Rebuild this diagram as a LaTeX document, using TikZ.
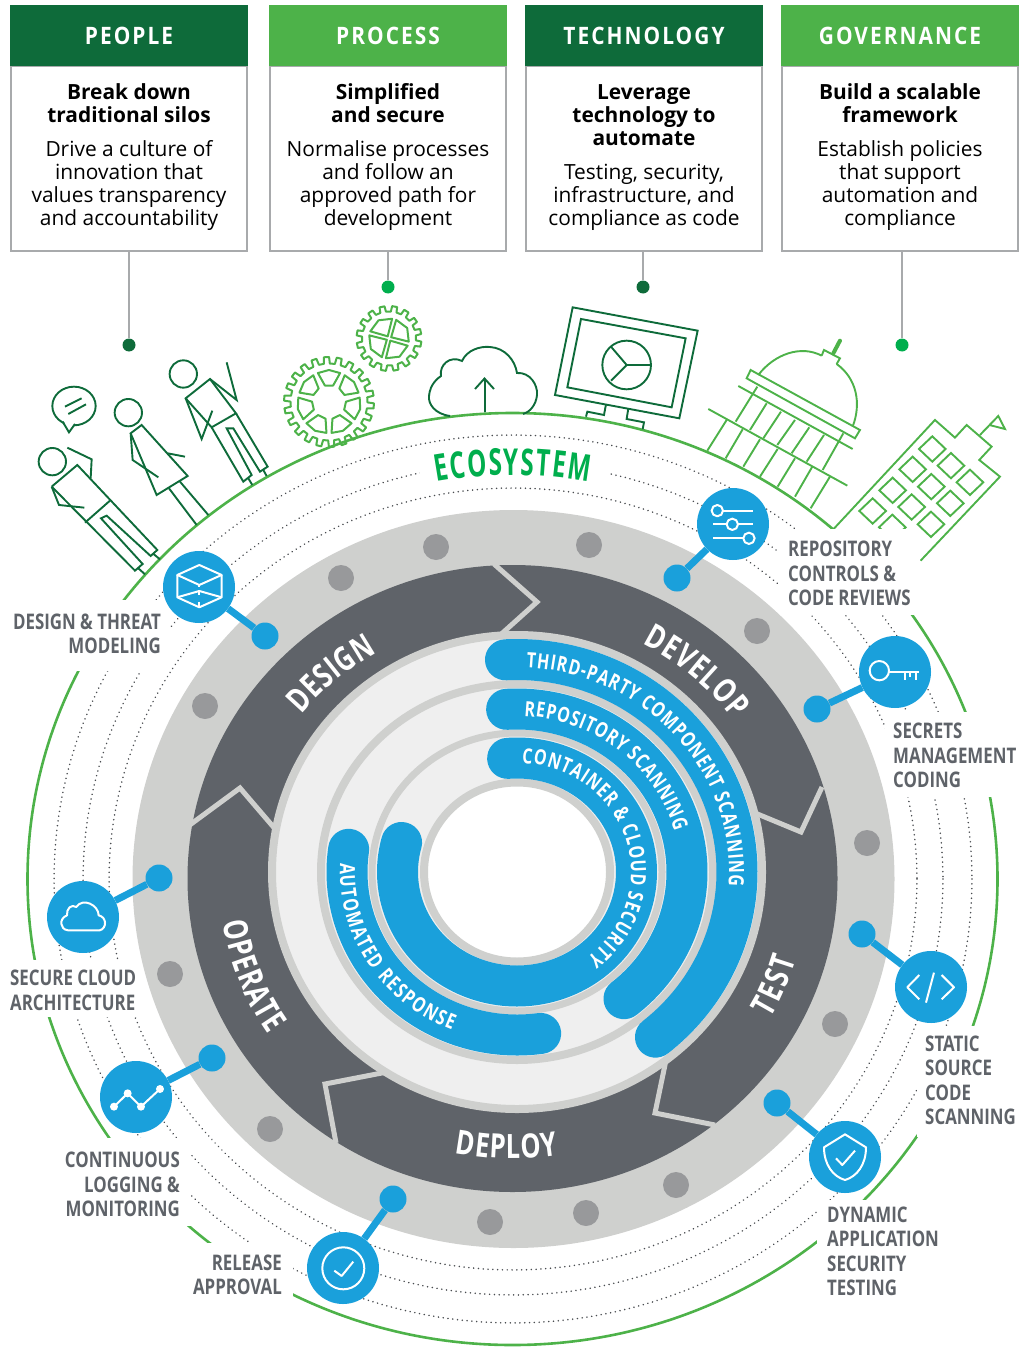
\documentclass[tikz,border=0pt]{standalone}
\usepackage{fontspec}
\setmainfont{Open Sans}
\newfontfamily\condfam[FakeStretch=0.785]{Open Sans}
\newfontfamily\ringfam[FakeStretch=0.76]{Open Sans}
\newfontfamily\ecofam[FakeStretch=0.655]{Open Sans}
\newfontfamily\headfam[FakeStretch=0.87,LetterSpace=8.5]{Open Sans}
\usetikzlibrary{decorations.text}
\definecolor{dgreen}{HTML}{0E6B3A}
\definecolor{lgreen}{HTML}{4DB249}
\definecolor{bgreen}{HTML}{00AE4D}
\definecolor{cblue}{HTML}{1AA0DB}
\definecolor{rgray}{HTML}{CFD0CE}
\definecolor{cdark}{HTML}{5F6369}
\definecolor{clight}{HTML}{EFEFEF}
\definecolor{cdisc}{HTML}{98999B}
\definecolor{bordergray}{HTML}{A8AAAC}
\definecolor{dotgray}{HTML}{4A4D51}
\newcommand{\earc}[6]{plot[domain=#5:#6,samples=150] ({#1+#3*cos(\x)},{#2+#4*sin(\x)})}
\newcommand{\drawgear}[6]{%
  \pgfmathsetmacro\gstep{360/#5}
  \draw[gearline] ({#1+#4*cos(#6-.27*\gstep)},{#2+#4*sin(#6-.27*\gstep)})
    \foreach \i in {1,...,#5} {
      -- ({#1+#4*cos(#6+(\i-1)*\gstep-.27*\gstep)},{#2+#4*sin(#6+(\i-1)*\gstep-.27*\gstep)})
      -- ({#1+#3*cos(#6+(\i-1)*\gstep-.2*\gstep)},{#2+#3*sin(#6+(\i-1)*\gstep-.2*\gstep)})
      -- ({#1+#3*cos(#6+(\i-1)*\gstep+.2*\gstep)},{#2+#3*sin(#6+(\i-1)*\gstep+.2*\gstep)})
      -- ({#1+#4*cos(#6+(\i-1)*\gstep+.27*\gstep)},{#2+#4*sin(#6+(\i-1)*\gstep+.27*\gstep)})
    } -- cycle;}
\newcommand{\arcfont}{\ringfam\bfseries\fontsize{21}{21}\selectfont\color{white}}
\newcommand{\ringfont}{\ringfam\bfseries\fontsize{33.5}{33}\selectfont\color{white}}
\newcommand{\ecofont}{\ecofam\bfseries\fontsize{37}{37}\selectfont\color{bgreen}}
\newcommand{\firstline}{\rule{0pt}{17pt}}
\tikzset{
  zoomed/.style 2 args={shift={(#1,#2)},x=.3333pt,y=-.3333pt},
  ill/.style={draw=dgreen,line width=1.9pt,line join=miter},
  illb/.style={draw=lgreen,line width=1.9pt,line join=miter},
  gearline/.style={draw=lgreen,line width=2pt,line join=round},
  dotring/.style={draw=dotgray,line width=1.7pt,line cap=round,dash pattern=on 0.01pt off 4.8pt},
  head/.style={minimum width=238pt,minimum height=61pt,inner sep=0pt,text=white,font=\headfam\bfseries\fontsize{24}{24}\selectfont},
  bodybox/.style={draw=bordergray,line width=2.6pt,fill=white,minimum width=236pt,minimum height=185pt,inner sep=0pt},
  bodytext/.style={anchor=north,align=center,inner sep=0pt,font=\fontsize{20.9}{23}\selectfont},
  stem/.style={draw=bordergray,line width=2.6pt},
  pin/.style={circle,minimum size=13pt,inner sep=0pt},
  iconc/.style={circle,fill=cblue,minimum size=72pt,inner sep=0pt},
  dotc/.style={circle,fill=cblue,minimum size=27pt,inner sep=0pt},
  link/.style={draw=cblue,line width=7pt},
  wicon/.style={draw=white,line width=2pt,line join=round},
  lab/.style={inner sep=0pt,text=cdark,font=\condfam\bfseries\fontsize{21.5}{24.5}\selectfont},
  labl/.style={lab,anchor=west,align=left},
  labr/.style={lab,anchor=east,align=right},
  chev/.style={draw=rgray,line width=5pt,line join=miter},
  track/.style={draw=cblue,line width=41pt,line cap=round},
  ring/.style={draw=rgray},
  disc/.style={fill=cdisc}
}
\begin{document}
\begin{tikzpicture}[x=1pt,y=-1pt]
\useasboundingbox (0,0) rectangle (1021,1348);
\clip (0,0) rectangle (1021,1348);
% header boxes
\node[bodybox] (peoplebox) at (129,158.5) {};
\node[bodybox] (processbox) at (388,158.5) {};
\node[bodybox] (techbox) at (644,158.5) {};
\node[bodybox] (govbox) at (900,158.5) {};
\node[head,fill=dgreen] (peoplehead) at (129,35.5) {PEOPLE};
\node[head,fill=lgreen] (processhead) at (388,35.5) {PROCESS};
\node[head,fill=dgreen] (techhead) at (644,35.5) {TECHNOLOGY};
\node[head,fill=lgreen] (govhead) at (900,35.5) {GOVERNANCE};
\node[bodytext] (peopletext) at (129,82.5) {\firstline\textbf{Break down}\\\textbf{traditional silos}\\[11pt]Drive a culture of\\innovation that\\values transparency\\and accountability};
\node[bodytext] (processtext) at (388,82.5) {\firstline\textbf{Simplified}\\\textbf{and secure}\\[11pt]Normalise processes\\and follow an\\approved path for\\development};
\node[bodytext] (techtext) at (644,82.5) {\firstline\textbf{Leverage}\\\textbf{technology to}\\\textbf{automate}\\[11pt]Testing, security,\\infrastructure, and\\compliance as code};
\node[bodytext] (govtext) at (900,82.5) {\firstline\textbf{Build a scalable}\\\textbf{framework}\\[11pt]Establish policies\\that support\\automation and\\compliance};
\node[pin,fill=dgreen] (pin1) at (129,345) {};
\node[pin,fill=bgreen] (pin2) at (388,287) {};
\node[pin,fill=dgreen] (pin3) at (643,287) {};
\node[pin,fill=bgreen] (pin4) at (902,345) {};
\draw[stem] (peoplebox.south -| pin1) -- (pin1);
\draw[stem] (processbox.south -| pin2) -- (pin2);
\draw[stem] (techbox.south -| pin3) -- (pin3);
\draw[stem] (govbox.south -| pin4) -- (pin4);
% green and dotted orbits
\draw[draw=lgreen,line width=2.6pt] (512.5,879) ellipse [x radius=485,y radius=466];
\draw[dotring] \earc{513}{879}{459}{444}{0}{360};
\draw[dotring] \earc{513}{879}{430}{416}{0}{360};
\draw[dotring] \earc{513}{879}{404}{391}{0}{360};
% people
\begin{scope}[zoomed={0}{340}]
\draw[ill] (222,198) circle [x radius=65,y radius=58];
\fill[white] (192,240) -- (222,240) -- (220,262) -- (195,262) -- cycle;
\draw[ill] (188,245) -- (207,277) -- (225,252);
\draw[ill] (195,200) -- (245,175) (205,222) -- (258,193);
\draw[ill] (157,365) circle [radius=41];
\draw[ill] (155,440) -- (232,375) -- (472,630) -- (452,648) -- (320,527) -- (303,535) -- (428,672) -- (405,692) -- (155,440);
\draw[ill] (255,548) -- (330,482);
\draw[ill] (202,323) -- (275,358) -- (272,415);
\draw[ill] (155,440) -- (177,495) -- (253,503);
\draw[ill] (415,685) -- (435,703) (458,640) -- (480,658);
\draw[ill] (385,218) circle [radius=41];
\draw[ill] (425,255) -- (392,280) -- (470,465) -- (563,408) -- cycle;
\draw[ill] (392,280) -- (398,360) -- (475,412);
\draw[ill] (503,340) -- (555,350);
\draw[ill] (507,445) -- (590,555) (540,425) -- (625,525);
\draw[ill] (550,102) circle [radius=41];
\draw[ill] (557,175) -- (630,117) -- (708,220) -- (635,262) -- cycle;
\draw[ill] (630,117) -- (710,180) -- (680,67);
\draw[ill] (557,175) -- (605,297) -- (637,212);
\draw[ill] (708,220) -- (803,380) -- (780,395) -- (700,265) -- (680,265) -- (755,405) -- (730,425) -- (635,262);
\draw[ill] (745,415) -- (757,435) (790,390) -- (800,408);
\end{scope}
% gears
\drawgear{329}{402}{45}{38.5}{22}{5}
\drawgear{389}{338.5}{32.5}{27}{16}{10}
\foreach \k in {0,...,6} {
  \pgfmathsetmacro\a{-90+51.43*\k}
  \draw[gearline] ({329+31*cos(\a-21)},{402+31*sin(\a-21)})
     -- ({329+32*cos(\a)},{402+32*sin(\a)})
     -- ({329+31*cos(\a+21)},{402+31*sin(\a+21)})
     -- ({329+17*cos(\a+14)},{402+17*sin(\a+14)})
     -- ({329+17*cos(\a-14)},{402+17*sin(\a-14)}) -- cycle;
}
\foreach \a in {0,90,180,270} {
  \draw[gearline] ({389+2.5*cos(\a+60)},{338.5+2.5*sin(\a+60)})
    -- ({389+20*cos(\a+21)},{338.5+20*sin(\a+21)})
    -- ({389+21*cos(\a+60)},{338.5+21*sin(\a+60)})
    -- ({389+20*cos(\a+99)},{338.5+20*sin(\a+99)}) -- cycle;
}
% cloud
\draw[ill] (450,416) .. controls (435,414) and (428,404) .. (429,396) .. controls (430,384) and (438,378) .. (441,376) .. controls (439,365) and (450,355) .. (462,361) .. controls (467,350) and (480,346) .. (490,347) .. controls (505,348) and (515,360) .. (517,373) .. controls (530,372) and (538,385) .. (537,395) .. controls (536,405) and (530,412) .. (523,414);
\draw[ill] (485,412) -- (485,380) (475,389) -- (484.5,378.5) -- (494,389);
% monitor and capitol and building
\begin{scope}[zoomed={500}{290}]
\draw[ill] (218,52) -- (593,122) -- (538,385) -- (165,315) -- cycle;
\draw[ill] (243,87) -- (557,145) -- (515,352) -- (202,292) -- cycle;
\draw[ill] (380,225) circle [radius=73];
\draw[ill] (380,225) -- (452,225) (380,225) -- (333,170) (380,225) -- (333,272);
\draw[ill] (318,343) -- (312,375) -- (262,365) -- (258,380) (385,355) -- (380,387) -- (432,397) -- (428,418);
\draw[illb] (775,255) .. controls (825,190) and (905,165) .. (965,197) (1010,222) .. controls (1070,265) and (1085,340) .. (1058,410);
\draw[illb] (752,240) -- (740,265) -- (1065,445) -- (1080,420) -- cycle;
\draw[illb] (965,197) -- (972,180) -- (1020,205) -- (1010,222);
\draw[draw=lgreen,line width=4pt,line cap=round] (1000,190) -- (1020,152);
\draw[illb] (715,288) -- (1058,477) (625,357) -- (1042,587);
\draw[illb] (772,290) -- (707,395) (800,340) -- (750,420) (843,365) -- (790,445) (885,390) -- (832,465) (928,412) -- (875,490) (972,435) -- (920,515) (1030,430) -- (968,540);
\draw[illb] (680,390) -- (622,482) (728,418) -- (677,505) (780,448) -- (730,530) (833,477) -- (780,560) (885,505) -- (833,590) (937,530) -- (885,620) (990,560) -- (932,655);
\draw[illb] (1000,718) -- (1305,390) -- (1365,443) -- (1400,405) -- (1475,470) -- (1438,510) -- (1500,560) -- (1262,812);
\draw[illb] (1440,435) -- (1495,378) -- (1515,417) -- (1468,405);
\foreach \cx/\cy in {1297/477,1238/538,1178/601,1118/663,1353/527,1294/590,1235/651,1177/712,1410/577,1351/640,1293/703} {
  \draw[illb] (\cx-40,\cy) -- (\cx,\cy-38) -- (\cx+40,\cy) -- (\cx,\cy+38) -- cycle;
}
\end{scope}
% white patches behind the labels
\fill[white] (0,600) rectangle (170,671);
\fill[white] (0,960) rectangle (137,1017);
\fill[white] (70,1138) rectangle (191,1226);
\fill[white] (170,1243) rectangle (293,1300);
\fill[white] (817,1200) rectangle (1021,1300);
\fill[white] (917,1026) rectangle (1021,1137);
\fill[white] (885,712) rectangle (1021,797);
\fill[white] (778,529) rectangle (920,615);
\fill[white] (420,455) rectangle (608,482);
% cycle
\fill[rgray] (513.5,879) ellipse [x radius=381,y radius=369];
\fill[cdark] (512.5,878.5) ellipse [x radius=325,y radius=313.5];
\foreach \x/\y in {436/547,589/545,341/578,757/631,205/706,867/843,170/974,835/1024,270/1129,676/1185,490/1222,586/1213} {
  \fill[disc] (\x,\y) circle [radius=13];
}
\draw[chev] (494,564) -- (537,602) -- (498,637);
\draw[chev] (822,787) -- (801,832) -- (755,813);
\draw[chev] (666,1060) -- (655,1113) -- (715,1125);
\draw[chev] (387,1072) -- (325,1084) -- (336,1143);
\draw[chev] (187,827) -- (240,788) -- (276,830);
\fill[clight] (517,872) ellipse [x radius=245,y radius=237];
\draw[ring,line width=8pt] (517,872) ellipse [x radius=245,y radius=237];
\draw[ring,line width=8pt] (517,872) ellipse [x radius=196,y radius=188];
\draw[ring,line width=7pt] (517,872) ellipse [x radius=145,y radius=139];
\fill[white] (517,872) ellipse [x radius=93,y radius=89.5];
\draw[ring,line width=8pt] (517,872) ellipse [x radius=93,y radius=89.5];
\draw[track] \earc{517}{872}{220}{212.5}{-93}{51};
\draw[track] \earc{517}{872}{170}{163}{-93.5}{51};
\draw[track] \earc{517}{872}{119.5}{114}{-94.5}{195};
\draw[track] \earc{517}{872}{170}{163}{188}{82};
\path[decorate,decoration={text along path,text align={fit to path},text={|\arcfont|THIRD-PARTY COMPONENT SCANNING}}] \earc{517}{872}{212}{204.5}{-87.5}{4};
\path[decorate,decoration={text along path,text align={fit to path},text={|\arcfont|REPOSITORY SCANNING}}] \earc{517}{872}{163}{156}{-87.5}{-15};
\path[decorate,decoration={text along path,text align={fit to path},text={|\arcfont|CONTAINER {\&} CLOUD SECURITY}}] \earc{517}{872}{114}{109}{-87.5}{52};
\path[decorate,decoration={text along path,text align={fit to path},text={|\arcfont|AUTOMATED RESPONSE}}] \earc{517}{872}{177}{170}{183}{111.5};
\path[decorate,decoration={text along path,text align={fit to path},text={|\ringfont|DEVELOP}}] \earc{512.5}{878.5}{276}{266}{-62}{-36.7};
\path[decorate,decoration={text along path,text align={fit to path},text={|\ringfont|DESIGN}}] \earc{512.5}{878.5}{271}{261}{-141}{-120};
\path[decorate,decoration={text along path,text align={fit to path},text={|\ringfont|TEST}}] \earc{512.5}{878.5}{296}{285}{29.5}{16.5};
\path[decorate,decoration={text along path,text align={fit to path},text={|\ringfont|DEPLOY}}] \earc{512.5}{878.5}{290}{280}{101.5}{81};
\path[decorate,decoration={text along path,text align={fit to path},text={|\ringfont|OPERATE}}] \earc{512.5}{878.5}{293}{283}{171}{146.5};
\path[decorate,decoration={text along path,text align={fit to path},text={|\ecofont|ECOSYSTEM}}] \earc{513}{879}{419}{404}{-100.5}{-79.6};
% feature icons and their links
\node[iconc] (designicon) at (199,587) {};
\node[dotc] (designdot) at (265,636) {};
\draw[link] (designicon) -- (designdot);
\node[iconc] (repoicon) at (733,524) {};
\node[dotc] (repodot) at (677,578) {};
\draw[link] (repoicon) -- (repodot);
\node[iconc] (secreticon) at (895,672) {};
\node[dotc] (secretdot) at (817,709) {};
\draw[link] (secreticon) -- (secretdot);
\node[iconc] (staticicon) at (931,987) {};
\node[dotc] (staticdot) at (862,934) {};
\draw[link] (staticicon) -- (staticdot);
\node[iconc] (dynicon) at (845,1157) {};
\node[dotc] (dyndot) at (777,1103) {};
\draw[link] (dynicon) -- (dyndot);
\node[iconc] (releaseicon) at (343,1268) {};
\node[dotc] (releasedot) at (393,1199) {};
\draw[link] (releaseicon) -- (releasedot);
\node[iconc] (logicon) at (136,1097) {};
\node[dotc] (logdot) at (212,1058) {};
\draw[link] (logicon) -- (logdot);
\node[iconc] (cloudicon) at (83,917) {};
\node[dotc] (clouddot) at (159,878) {};
\draw[link] (cloudicon) -- (clouddot);
% icon glyphs
\begin{scope}[zoomed={0}{340}]
\draw[wicon] (598,675) -- (665,705) -- (598,735) -- (532,705) -- cycle;
\draw[wicon] (532,705) -- (532,772) -- (598,802) -- (665,772) -- (665,705);
\draw[wicon] (532,772) -- (598,753) -- (665,772);
\draw[wicon] (598,735) -- (598,742) (598,753) -- (598,764) (598,785) -- (598,802);
\end{scope}
\begin{scope}[zoomed={500}{290}]
\draw[wicon] (665,662) -- (760,662) (640,703) -- (682,703) (712,703) -- (760,703) (640,745) -- (730,745);
\draw[wicon,fill=cblue] (652,662) circle [radius=17];
\draw[wicon,fill=cblue] (697,703) circle [radius=17];
\draw[wicon,fill=cblue] (747,745) circle [radius=17];
\end{scope}
\begin{scope}[zoomed={850}{630}]
\draw[wicon] (88,122) circle [radius=29];
\draw[wicon] (118,125) -- (208,125) (165,125) -- (165,150) (180,125) -- (180,142) (198,125) -- (198,150);
\end{scope}
\begin{scope}[zoomed={640}{780}]
\draw[wicon] (838,585) -- (802,622) -- (838,658) (882,578) -- (858,668) (905,585) -- (942,622) -- (905,658);
\end{scope}
\begin{scope}[zoomed={800}{1115}]
\draw[wicon] (135,58) -- (72,97) .. controls (72,150) and (100,185) .. (135,195) .. controls (170,185) and (198,150) .. (198,97) -- cycle;
\draw[wicon] (108,130) -- (127,150) -- (165,107);
\end{scope}
\begin{scope}[zoomed={0}{1000}]
\draw[wicon] (1030,805) circle [radius=63];
\draw[wicon] (1003,812) -- (1025,828) -- (1060,785);
\draw[wicon] (342,320) -- (383,280) -- (423,320) -- (480,267);
\foreach \x/\y in {342/320,383/280,423/320,480/267} {\fill[white] (\x,\y) circle [radius=12];}
\end{scope}
\begin{scope}[zoomed={38}{872}]
\draw[wicon] (90,175) -- (185,175) .. controls (207,170) and (207,135) .. (182,130) .. controls (182,100) and (135,75) .. (115,105) .. controls (100,95) and (85,110) .. (87,130) .. controls (62,140) and (65,172) .. (90,175) -- cycle;
\end{scope}
% labels
\node[labr] (designlab) at (161,634) {DESIGN \& THREAT\\MODELING};
\node[labl] (repolab) at (788,573.5) {REPOSITORY\\CONTROLS \&\\CODE REVIEWS};
\node[labl] (secretlab) at (893,755.5) {SECRETS\\MANAGEMENT\\CODING};
\node[labl] (staticlab) at (925,1080.5) {STATIC\\SOURCE\\CODE\\SCANNING};
\node[labl] (dynlab) at (827,1251.5) {DYNAMIC\\APPLICATION\\SECURITY\\TESTING};
\node[labr] (releaselab) at (282,1275) {RELEASE\\APPROVAL};
\node[labr] (loglab) at (180,1184.5) {CONTINUOUS\\LOGGING \&\\MONITORING};
\node[labl] (cloudlab) at (10,990.5) {SECURE CLOUD\\ARCHITECTURE};
\end{tikzpicture}
\end{document}
